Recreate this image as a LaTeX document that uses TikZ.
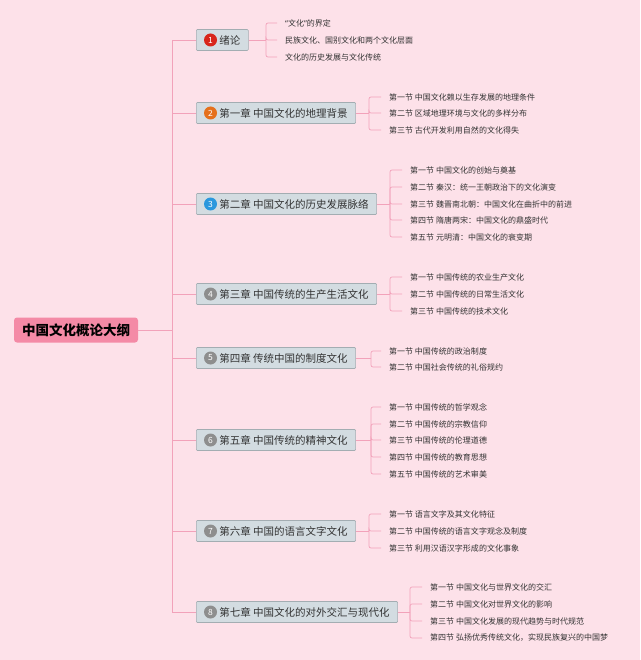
\documentclass[tikz,border=0pt]{standalone}
\usepackage{fontspec}
\newfontfamily\cjk{Noto Sans CJK SC}
\newfontfamily\latn{Noto Sans}
\usepackage{tikz}
\usetikzlibrary{positioning}
\usetikzlibrary{calc}
\definecolor{bgPink}{HTML}{FDE1E9}
\definecolor{rootPink}{HTML}{F48AA6}
\definecolor{linkPink}{HTML}{F2A2BA}
\definecolor{chapFill}{HTML}{D3DCE1}
\definecolor{chapDraw}{HTML}{A3ADB2}
\definecolor{numRed}{HTML}{D8261B}
\definecolor{numOrange}{HTML}{E5701C}
\definecolor{numBlue}{HTML}{2B98DD}
\definecolor{numGray}{HTML}{8E8E8E}
\definecolor{inkGray}{HTML}{333333}

\begin{document}
\begin{tikzpicture}[
            x=1pt,y=-1pt,
            rootbox/.style={rectangle,rounded corners=3pt,fill=rootPink,text=black,inner sep=0pt,
                minimum width=124pt,minimum height=25pt,font=\cjk\bfseries\fontsize{13.5}{14}\selectfont},
            chapbox/.style={rectangle,fill=chapFill,draw=chapDraw,line width=0.6pt,rounded corners=1pt,
                anchor=west,minimum height=21pt,inner ysep=0pt,inner xsep=8pt,text=inkGray,
                font=\cjk\fontsize{10.5}{12}\selectfont},
            numdot/.style={circle,inner sep=0pt,minimum size=13pt,text=white,font=\cjk\fontsize{8.5}{9}\selectfont},
            secitem/.style={anchor=west,inner sep=0pt,text=inkGray,font=\cjk\fontsize{8}{9}\selectfont},
            link/.style={draw=linkPink,line width=0.9pt},
            twig/.style={draw=linkPink,line width=0.7pt,rounded corners=2pt,shorten >=8pt},
        ]
            %--- Canvas ---%
            \fill[bgPink] (0,0) rectangle (640,660);
            \useasboundingbox (0,0) rectangle (640,660);

            %--- Root ---%
            \node[rootbox] (root) at (76,330) {中国文化概论大纲};
            \coordinate (hub) at (172,330);

            %--- Chapters ---%
            \node[chapbox] (c1) at (196,40)  {\hspace*{15pt}绪论};
            \node[chapbox] (c2) at (196,113) {\hspace*{15pt}第一章 中国文化的地理背景};
            \node[chapbox] (c3) at (196,204) {\hspace*{15pt}第二章 中国文化的历史发展脉络};
            \node[chapbox] (c4) at (196,294) {\hspace*{15pt}第三章 中国传统的生产生活文化};
            \node[chapbox] (c5) at (196,358) {\hspace*{15pt}第四章 传统中国的制度文化};
            \node[chapbox] (c6) at (196,440) {\hspace*{15pt}第五章 中国传统的精神文化};
            \node[chapbox] (c7) at (196,531) {\hspace*{15pt}第六章 中国的语言文字文化};
            \node[chapbox] (c8) at (196,612) {\hspace*{15pt}第七章 中国文化的对外交汇与现代化};

            \node[numdot,fill=numRed]    (n1) at ([xshift=14.5pt]c1.west) {1};
            \node[numdot,fill=numOrange] (n2) at ([xshift=14.5pt]c2.west) {2};
            \node[numdot,fill=numBlue]   (n3) at ([xshift=14.5pt]c3.west) {3};
            \node[numdot,fill=numGray]   (n4) at ([xshift=14.5pt]c4.west) {4};
            \node[numdot,fill=numGray]   (n5) at ([xshift=14.5pt]c5.west) {5};
            \node[numdot,fill=numGray]   (n6) at ([xshift=14.5pt]c6.west) {6};
            \node[numdot,fill=numGray]   (n7) at ([xshift=14.5pt]c7.west) {7};
            \node[numdot,fill=numGray]   (n8) at ([xshift=14.5pt]c8.west) {8};

            %--- Trunk ---%
            \draw[link] (root.east) -- (hub);
            \draw[link] (hub) |- (c1.west);
            \draw[link] (hub) |- (c2.west);
            \draw[link] (hub) |- (c3.west);
            \draw[link] (hub) |- (c4.west);
            \draw[link] (hub) |- (c5.west);
            \draw[link] (hub) |- (c6.west);
            \draw[link] (hub) |- (c7.west);
            \draw[link] (hub) |- (c8.west);

            %--- Sections: 绪论 ---%
            \coordinate (k1) at (266,40);
            \node[secitem] (s11) at (285,23) {{\latn “}文化{\latn ”}的界定};
            \node[secitem] (s12) at (285,40) {民族文化、国别文化和两个文化层面};
            \node[secitem] (s13) at (285,57) {文化的历史发展与文化传统};
            \draw[link] (c1.east) -- (k1);
            \draw[twig] (k1) |- (s11.west);
            \draw[twig] (k1) |- (s12.west);
            \draw[twig] (k1) |- (s13.west);

            %--- Sections: 第一章 ---%
            \coordinate (k2) at (369,113);
            \node[secitem] (s21) at (389,97)  {第一节 中国文化赖以生存发展的地理条件};
            \node[secitem] (s22) at (389,113) {第二节 区域地理环境与文化的多样分布};
            \node[secitem] (s23) at (389,130) {第三节 古代开发利用自然的文化得失};
            \draw[link] (c2.east) -- (k2);
            \draw[twig] (k2) |- (s21.west);
            \draw[twig] (k2) |- (s22.west);
            \draw[twig] (k2) |- (s23.west);

            %--- Sections: 第二章 ---%
            \coordinate (k3) at (390,204);
            \node[secitem] (s31) at (410,170) {第一节 中国文化的创始与奠基};
            \node[secitem] (s32) at (410,187) {第二节 秦汉：统一王朝政治下的文化演变};
            \node[secitem] (s33) at (410,204) {第三节 魏晋南北朝：中国文化在曲折中的前进};
            \node[secitem] (s34) at (410,220) {第四节 隋唐两宋：中国文化的鼎盛时代};
            \node[secitem] (s35) at (410,237) {第五节 元明清：中国文化的衰变期};
            \draw[link] (c3.east) -- (k3);
            \draw[twig] (k3) |- (s31.west);
            \draw[twig] (k3) |- (s32.west);
            \draw[twig] (k3) |- (s33.west);
            \draw[twig] (k3) |- (s34.west);
            \draw[twig] (k3) |- (s35.west);

            %--- Sections: 第三章 ---%
            \coordinate (k4) at (390,294);
            \node[secitem] (s41) at (410,277) {第一节 中国传统的农业生产文化};
            \node[secitem] (s42) at (410,294) {第二节 中国传统的日常生活文化};
            \node[secitem] (s43) at (410,311) {第三节 中国传统的技术文化};
            \draw[link] (c4.east) -- (k4);
            \draw[twig] (k4) |- (s41.west);
            \draw[twig] (k4) |- (s42.west);
            \draw[twig] (k4) |- (s43.west);

            %--- Sections: 第四章 ---%
            \coordinate (k5) at (371,358);
            \node[secitem] (s51) at (389,351) {第一节 中国传统的政治制度};
            \node[secitem] (s52) at (389,367) {第二节 中国社会传统的礼俗规约};
            \draw[link] (c5.east) -- (k5);
            \draw[twig] (k5) |- (s51.west);
            \draw[twig] (k5) |- (s52.west);

            %--- Sections: 第五章 ---%
            \coordinate (k6) at (371,440);
            \node[secitem] (s61) at (389,407) {第一节 中国传统的哲学观念};
            \node[secitem] (s62) at (389,424) {第二节 中国传统的宗教信仰};
            \node[secitem] (s63) at (389,440) {第三节 中国传统的伦理道德};
            \node[secitem] (s64) at (389,457) {第四节 中国传统的教育思想};
            \node[secitem] (s65) at (389,474) {第五节 中国传统的艺术审美};
            \draw[link] (c6.east) -- (k6);
            \draw[twig] (k6) |- (s61.west);
            \draw[twig] (k6) |- (s62.west);
            \draw[twig] (k6) |- (s63.west);
            \draw[twig] (k6) |- (s64.west);
            \draw[twig] (k6) |- (s65.west);

            %--- Sections: 第六章 ---%
            \coordinate (k7) at (369,531);
            \node[secitem] (s71) at (389,514) {第一节 语言文字及其文化特征};
            \node[secitem] (s72) at (389,531) {第二节 中国传统的语言文字观念及制度};
            \node[secitem] (s73) at (389,548) {第三节 利用汉语汉字形成的文化事象};
            \draw[link] (c7.east) -- (k7);
            \draw[twig] (k7) |- (s71.west);
            \draw[twig] (k7) |- (s72.west);
            \draw[twig] (k7) |- (s73.west);

            %--- Sections: 第七章 ---%
            \coordinate (k8) at (410,612);
            \node[secitem] (s81) at (430,587) {第一节 中国文化与世界文化的交汇};
            \node[secitem] (s82) at (430,604) {第二节 中国文化对世界文化的影响};
            \node[secitem] (s83) at (430,621) {第三节 中国文化发展的现代趋势与时代规范};
            \node[secitem] (s84) at (430,638) {第四节 弘扬优秀传统文化，实现民族复兴的中国梦};
            \draw[link] (c8.east) -- (k8);
            \draw[twig] (k8) |- (s81.west);
            \draw[twig] (k8) |- (s82.west);
            \draw[twig] (k8) |- (s83.west);
            \draw[twig] (k8) |- (s84.west);

        \end{tikzpicture}
\end{document}
